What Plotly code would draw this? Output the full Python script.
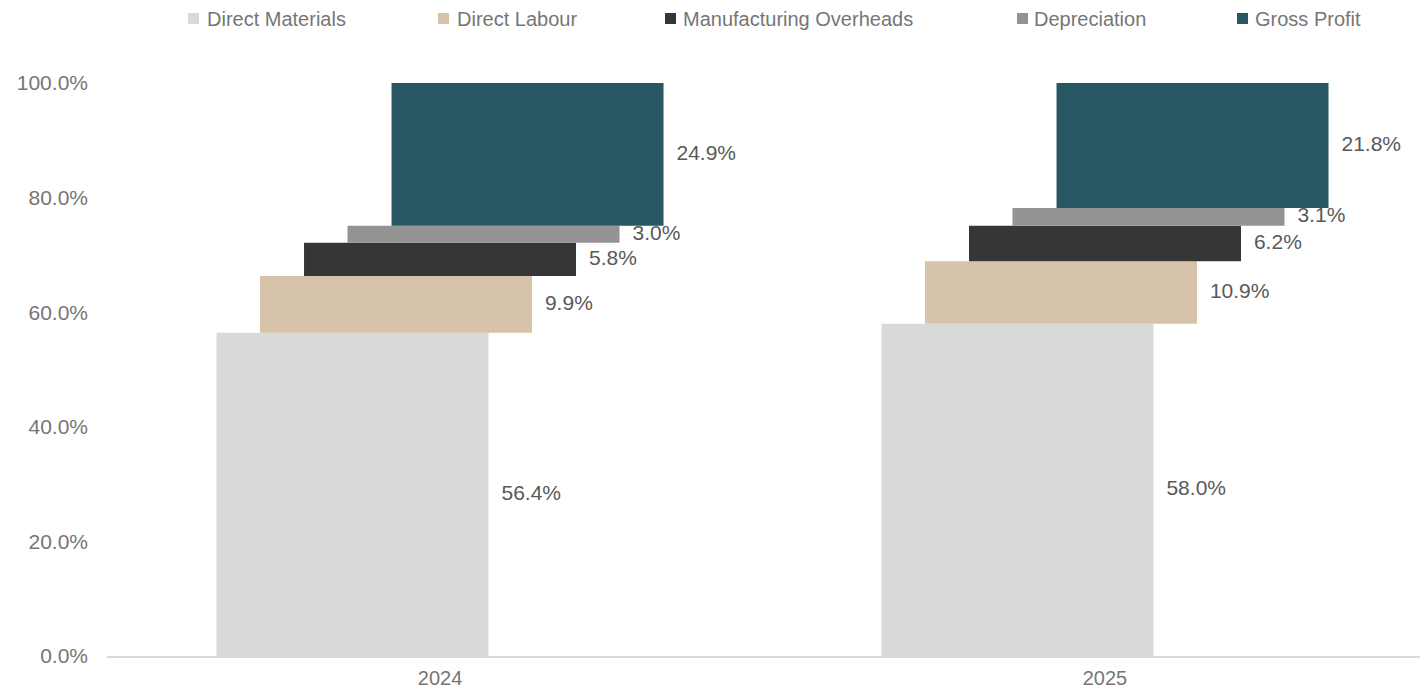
import plotly.graph_objects as go

years = ["2024", "2025"]
series = ["Direct Materials", "Direct Labour", "Manufacturing Overheads", "Depreciation", "Gross Profit"]
direct_materials = [56.4, 58.0]
direct_labour = [9.9, 10.9]
manufacturing_overheads = [5.8, 6.2]
depreciation = [3.0, 3.1]
gross_profit = [24.9, 21.8]
colors = ["#d9d9d9", "#d6c3a9", "#363636", "#939393", "#285763"]
y_ticks = [0, 20, 40, 60, 80, 100]

values = [direct_materials, direct_labour, manufacturing_overheads, depreciation, gross_profit]

# layout geometry (pixels)
W, H = 1420, 690
ML, MR, MT, MB = 107, 0, 83, 34
PW, PH = W - ML - MR, H - MT - MB
offsets = [-0.1316, -0.0662, 0.0, 0.0654, 0.1316]
bar_w = 0.409
label_gap = 0.0195
legend_square_x = [188, 438, 665, 1017, 1237]
legend_text_x = [205, 455, 681, 1032, 1253]
legend_y = 18.5

def px_x(p):
    return (p - ML) / PW

def px_y(p):
    return (H - MB - p) / PH

fig = go.Figure()
bases = [0.0, 0.0]
for name, vals, col, off in zip(series, values, colors, offsets):
    xs = [i + off for i in range(len(years))]
    fig.add_trace(go.Bar(
        name=name, x=xs, y=vals, base=list(bases), width=bar_w,
        marker=dict(color=col, line=dict(width=0)),
        hoverinfo="skip", showlegend=False,
    ))
    fig.add_trace(go.Scatter(
        x=[x + bar_w / 2 + label_gap for x in xs],
        y=[b + v / 2 for b, v in zip(bases, vals)],
        mode="text", text=[f"{v:.1f}%" for v in vals],
        textposition="middle right",
        textfont=dict(family="Liberation Sans, Arial, sans-serif", size=21, color="#595959"),
        showlegend=False, hoverinfo="skip",
    ))
    bases = [b + v for b, v in zip(bases, vals)]

# legend (drawn as shapes + annotations to match the original spacing)
for name, col, sx, tx in zip(series, colors, legend_square_x, legend_text_x):
    fig.add_shape(type="rect", xref="paper", yref="paper",
                  x0=px_x(sx), x1=px_x(sx + 11), y0=px_y(legend_y + 5.5), y1=px_y(legend_y - 5.5),
                  fillcolor=col, line=dict(width=0))
    fig.add_annotation(xref="paper", yref="paper", x=px_x(tx), y=px_y(legend_y),
                       text=name, showarrow=False, xanchor="left", yanchor="middle",
                       font=dict(family="Liberation Sans, Arial, sans-serif", size=20, color="#767676"))

fig.update_layout(
    width=W, height=H,
    margin=dict(l=ML, r=MR, t=MT, b=MB, autoexpand=False),
    plot_bgcolor="white", paper_bgcolor="white",
    barmode="overlay",
    showlegend=False,
    xaxis=dict(
        tickvals=[0, 1], ticktext=years, range=[-0.5008, 1.4737],
        showgrid=False, zeroline=False, showline=True, linecolor="#d9d9d9", linewidth=1.5,
        ticks="", tickfont=dict(family="Liberation Sans, Arial, sans-serif", size=20, color="#767676"),
        ticklabelstandoff=3, automargin=False,
    ),
    yaxis=dict(
        range=[0, 100], tickvals=y_ticks, ticktext=[f"{t:.1f}%" for t in y_ticks],
        showgrid=False, zeroline=False, showline=False, ticks="",
        tickfont=dict(family="Liberation Sans, Arial, sans-serif", size=21, color="#767676"),
        ticklabelstandoff=18, automargin=False,
    ),
)

fig.write_html("out.html")
